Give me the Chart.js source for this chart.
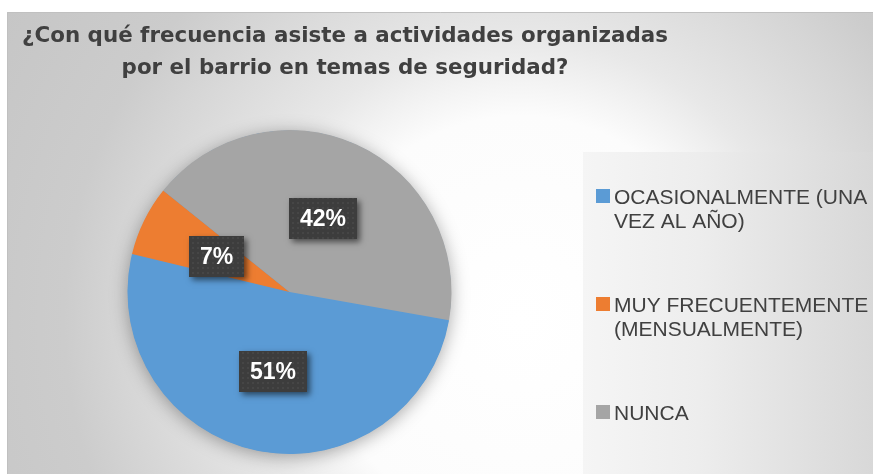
<!DOCTYPE html>
<html>
<head>
<meta charset="utf-8">
<script src="https://cdn.jsdelivr.net/npm/chart.js@4/dist/chart.umd.min.js"></script>
<style>
  html, body { margin: 0; padding: 0; background: #ffffff; overflow: hidden; }
  #wrap { position: relative; width: 873px; height: 474px; }
</style>
</head>
<body>
<div id="wrap"><canvas id="c" width="873" height="474"></canvas></div>
<script>
// ---- data ----
const titleLines = ['¿Con qué frecuencia asiste a actividades organizadas', 'por el barrio en temas de seguridad?'];
const categories = [
  ['OCASIONALMENTE (UNA', 'VEZ AL AÑO)'],
  ['MUY FRECUENTEMENTE', '(MENSUALMENTE)'],
  ['NUNCA']
];
const values = [51, 7, 42];
const colors = ['#5B9BD5', '#ED7D31', '#A5A5A5'];

// ---- styling helpers ----
function makePattern(ctx) {
  const t = document.createElement('canvas');
  t.width = 10; t.height = 10;
  const g = t.getContext('2d');
  g.fillStyle = '#3d3d3d';
  g.fillRect(0, 0, 10, 10);
  g.fillStyle = '#464646';
  g.fillRect(2, 2, 2, 2);
  g.fillRect(7, 7, 2, 2);
  g.fillRect(7, 2, 2, 2);
  g.fillRect(2, 7, 2, 2);
  return ctx.createPattern(t, 'repeat');
}

const backgroundPlugin = {
  id: 'bg',
  beforeDraw(chart) {
    const ctx = chart.ctx;
    const W = chart.width, H = chart.height;
    ctx.save();
    ctx.fillStyle = '#ffffff';
    ctx.fillRect(0, 0, W, H);
    // panel
    const px = 7, py = 12;
    const rg = ctx.createRadialGradient(520, 320, 0, 520, 320, 600);
    rg.addColorStop(0, '#ffffff');
    rg.addColorStop(0.34, '#fcfcfc');
    rg.addColorStop(0.47, '#e8e8e8');
    rg.addColorStop(0.52, '#e3e3e3');
    rg.addColorStop(0.67, '#d5d5d5');
    rg.addColorStop(0.76, '#cccccc');
    rg.addColorStop(1, '#c6c6c6');
    ctx.fillStyle = rg;
    ctx.fillRect(px, py, W - px, H - py);
    ctx.strokeStyle = '#c0c0c0';
    ctx.lineWidth = 1;
    ctx.beginPath();
    ctx.moveTo(px + 0.5, H);
    ctx.lineTo(px + 0.5, py + 0.5);
    ctx.lineTo(W, py + 0.5);
    ctx.stroke();
    // legend box
    const lx = 583, ly = 152;
    const lg = ctx.createLinearGradient(lx, 0, W, 0);
    lg.addColorStop(0, '#f5f5f5');
    lg.addColorStop(0.4, '#ededed');
    lg.addColorStop(1, '#d8d8d8');
    ctx.fillStyle = lg;
    ctx.fillRect(lx, ly, W - lx, H - ly);
    ctx.restore();
  },
  beforeDatasetsDraw(chart) {
    // soft shadow under the whole pie
    const arc = chart.getDatasetMeta(0).data[0];
    if (!arc) return;
    const ctx = chart.ctx;
    ctx.save();
    ctx.shadowColor = 'rgba(0,0,0,0.35)';
    ctx.shadowBlur = 18;
    ctx.shadowOffsetX = 0;
    ctx.shadowOffsetY = 3;
    ctx.fillStyle = colors[0];
    ctx.beginPath();
    ctx.arc(arc.x, arc.y, arc.outerRadius - 0.5, 0, Math.PI * 2);
    ctx.fill();
    ctx.restore();
  }
};

const labelPlugin = {
  id: 'pctLabels',
  afterDatasetsDraw(chart) {
    const ctx = chart.ctx;
    const meta = chart.getDatasetMeta(0);
    const data = chart.data.datasets[0].data;
    const total = data.reduce((a, b) => a + b, 0);
    const pattern = makePattern(ctx);
    ctx.save();
    ctx.font = 'bold 23px "Liberation Sans", Arial, sans-serif';
    meta.data.forEach((arc, i) => {
      const p = arc.tooltipPosition();
      const txt = Math.round(data[i] / total * 100) + '%';
      const tw = ctx.measureText(txt).width;
      const bw = Math.round(tw + 22), bh = 41;
      const bx = Math.round(p.x - bw / 2), by = Math.round(p.y - bh / 2);
      ctx.save();
      ctx.shadowColor = 'rgba(0,0,0,0.55)';
      ctx.shadowBlur = 6;
      ctx.shadowOffsetX = 3;
      ctx.shadowOffsetY = 3;
      ctx.fillStyle = '#3d3d3d';
      ctx.fillRect(bx, by, bw, bh);
      ctx.restore();
      ctx.fillStyle = pattern;
      ctx.fillRect(bx, by, bw, bh);
      ctx.fillStyle = '#ffffff';
      ctx.textAlign = 'center';
      ctx.textBaseline = 'middle';
      ctx.fillText(txt, bx + bw / 2, by + bh / 2 + 1);
    });
    ctx.restore();
  }
};

const textPlugin = {
  id: 'titleLegend',
  afterDraw(chart) {
    const ctx = chart.ctx;
    ctx.save();
    // title
    ctx.fillStyle = '#404040';
    ctx.font = 'bold 21.4px "DejaVu Sans", sans-serif';
    ctx.textAlign = 'center';
    ctx.textBaseline = 'alphabetic';
    titleLines.forEach((line, j) => ctx.fillText(line, 345, 42 + j * 32));
    // legend
    ctx.font = '21px "Liberation Sans", Arial, sans-serif';
    ctx.textAlign = 'left';
    const cols = chart.data.datasets[0].backgroundColor;
    chart.data.labels.forEach((lab, i) => {
      const y0 = 204 + i * 108;
      ctx.fillStyle = cols[i];
      ctx.fillRect(596, y0 - 15, 14, 14);
      ctx.fillStyle = '#404040';
      const lines = Array.isArray(lab) ? lab : [lab];
      lines.forEach((ln, j) => ctx.fillText(ln, 614, y0 + j * 24));
    });
    ctx.restore();
  }
};

new Chart(document.getElementById('c'), {
  type: 'pie',
  data: {
    labels: categories,
    datasets: [{
      data: values,
      backgroundColor: colors,
      borderWidth: 0,
      hoverOffset: 0,
      offset: 0
    }]
  },
  options: {
    responsive: false,
    animation: false,
    devicePixelRatio: 1,
    rotation: 100,
    layout: { padding: { left: 127.5, right: 421.5, top: 130, bottom: 20 } },
    plugins: {
      legend: { display: false },
      title: { display: false },
      tooltip: { enabled: false }
    },
    events: []
  },
  plugins: [backgroundPlugin, labelPlugin, textPlugin]
});
</script>
</body>
</html>
